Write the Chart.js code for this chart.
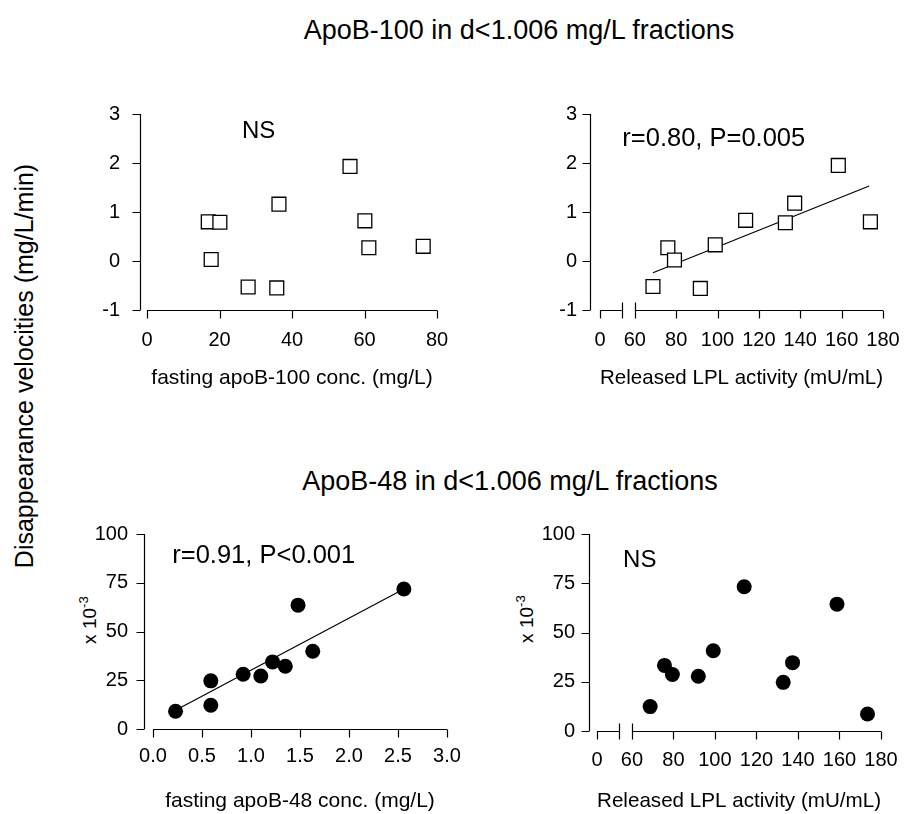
<!DOCTYPE html>
<html><head><meta charset="utf-8">
<script src="https://cdn.jsdelivr.net/npm/chart.js@4.4.0/dist/chart.umd.min.js"></script>
<style>
html,body{margin:0;padding:0;background:#fff;}
#wrap{position:relative;width:904px;height:814px;overflow:hidden;font-family:"Liberation Sans",Arial,sans-serif;color:#000;background:#fff;}
.t{position:absolute;white-space:nowrap;transform:translate(-50%,-50%);line-height:1;}
.r{transform:translate(-50%,-50%) rotate(-90deg);}
canvas{position:absolute;}
sup{font-size:70%;}
</style></head><body>
<div id="wrap">
  <div class="t" style="left:519px;top:30px;font-size:27px">ApoB-100 in d&lt;1.006 mg/L fractions</div>
  <div class="t" style="left:510px;top:481px;font-size:27px">ApoB-48 in d&lt;1.006 mg/L fractions</div>
  <div class="t r" style="left:24px;top:366px;font-size:25px">Disappearance velocities (mg/L/min)</div>
  <div class="t r" style="left:88px;top:620px;font-size:19px">x 10<sup>-3</sup></div>
  <div class="t r" style="left:525px;top:619px;font-size:19px">x 10<sup>-3</sup></div>
  <canvas id="c1" width="416" height="335" style="left:60px;top:60px"></canvas>
  <canvas id="c2" width="424" height="335" style="left:500px;top:60px"></canvas>
  <canvas id="c3" width="428" height="324" style="left:60px;top:490px"></canvas>
  <canvas id="c4" width="424" height="324" style="left:500px;top:490px"></canvas>
</div>
<script>
// ---- data ----
const apoB100Fasting   = [16.9, 20.1, 17.7, 27.9, 35.8, 36.4, 56.0, 60.1, 61.2, 76.2];
const apoB100VelFast   = [0.80, 0.79, 0.03, -0.53, -0.55, 1.16, 1.93, 0.82, 0.27, 0.30];
const lplActB100       = [68.8, 76.0, 79.2, 91.7, 98.9, 113.6, 132.8, 137.3, 158.4, 173.9];
const apoB100VelLPL    = [-0.52, 0.27, 0.02, -0.56, 0.33, 0.83, 0.78, 1.18, 1.95, 0.80];
const apoB100FitX      = [68.8, 173.3];
const apoB100FitY      = [-0.24, 1.53];
const apoB48Fasting    = [0.23, 0.59, 0.59, 0.92, 1.10, 1.22, 1.35, 1.48, 1.63, 2.56];
const apoB48VelFast    = [9.1, 24.7, 12.2, 28.1, 27.2, 34.4, 32.2, 63.5, 39.9, 71.8];
const apoB48FitX       = [0.23, 2.56];
const apoB48FitY       = [9.6, 71.8];
const lplActB48        = [68.8, 75.7, 79.5, 92.0, 99.2, 114.1, 132.9, 137.4, 158.8, 173.5];
const apoB48VelLPL     = [12.4, 33.3, 28.7, 27.8, 40.7, 73.2, 24.7, 34.7, 64.4, 8.6];
// ---- ticks ----
const yTicksB100   = [-1, 0, 1, 2, 3];
const yTicksB48    = [0, 25, 50, 75, 100];
const xTicksB100F  = [0, 20, 40, 60, 80];
const xTicksB48F   = [0, 0.5, 1.0, 1.5, 2.0, 2.5, 3.0];
const xTicksLPL    = [60, 80, 100, 120, 140, 160, 180];
const lplBreakLabel = '0';
const lplBreakValue = 43.2;   // axis value where the broken-axis "0" sits

const FONT = '"Liberation Sans", Arial, sans-serif';
const pts = (xs, ys) => xs.map((x, i) => ({x, y: ys[i]}));

const sigmaAxes = {
  id: 'sigmaAxes',
  afterDatasetsDraw(chart, args, o) {
    const ctx = chart.ctx, xs = chart.scales.x, ys = chart.scales.y, ca = chart.chartArea;
    const ax = Math.round(ca.left - o.yOffset) + 0.5;
    const yb = Math.round(ca.bottom) + 0.5;
    ctx.save();
    ctx.strokeStyle = '#000'; ctx.lineWidth = 1.2;
    ctx.beginPath();
    ctx.moveTo(ax, ys.getPixelForValue(ys.max)); ctx.lineTo(ax, ys.getPixelForValue(ys.min));
    ys.ticks.forEach(t => { const p = Math.round(ys.getPixelForValue(t.value)) + 0.5; ctx.moveTo(ax, p); ctx.lineTo(ax - o.tick, p); });
    const xl = xs.getPixelForValue(xs.min), xr = xs.getPixelForValue(xs.max);
    if (o.breakAt != null) {
      const bp = xs.getPixelForValue(o.breakAt);
      const g0 = bp - o.breakGap;
      ctx.moveTo(xl, yb); ctx.lineTo(g0, yb);
      ctx.moveTo(bp, yb); ctx.lineTo(xr, yb);
      [g0, bp].forEach(p => { ctx.moveTo(Math.round(p) + 0.5, yb - o.tick); ctx.lineTo(Math.round(p) + 0.5, yb + o.tick); });
    } else {
      ctx.moveTo(xl, yb); ctx.lineTo(xr, yb);
    }
    xs.ticks.forEach(t => { const p = Math.round(xs.getPixelForValue(t.value)) + 0.5; ctx.moveTo(p, yb); ctx.lineTo(p, yb + o.tick); });
    ctx.stroke();
    if (o.note) {
      ctx.fillStyle = '#000';
      ctx.font = o.note.size + 'px ' + FONT;
      ctx.textAlign = 'center'; ctx.textBaseline = 'middle';
      ctx.fillText(o.note.text, xs.getPixelForValue(o.note.x), ys.getPixelForValue(o.note.y));
    }
    ctx.restore();
  }
};

function makeChart(id, p) {
  const datasets = [{
    type: 'scatter', data: pts(p.xs, p.ys), order: 1,
    pointStyle: p.style, pointRadius: p.radius, pointHoverRadius: p.radius,
    backgroundColor: p.fill, borderColor: '#000', borderWidth: p.style === 'rect' ? 1.3 : 0
  }];
  if (p.fitX) datasets.push({
    type: 'line', data: pts(p.fitX, p.fitY), order: 2, showLine: true,
    borderColor: '#000', borderWidth: 1.2, pointRadius: 0, fill: false
  });
  const tickFont = {family: FONT, size: 20};
  return new Chart(document.getElementById(id), {
    type: 'scatter',
    data: {datasets},
    options: {
      responsive: false, animation: false, devicePixelRatio: 1,
      layout: {padding: {left: 0, top: p.padTop, right: p.padRight, bottom: 0}},
      plugins: {legend: {display: false}, tooltip: {enabled: false}, sigmaAxes: p.axes},
      scales: {
        x: {
          type: 'linear', min: p.xMin, max: p.xMax,
          afterBuildTicks: s => { s.ticks = p.xTicks.map(v => ({value: v})); },
          afterFit: s => { s.height = p.xHeight; },
          grid: {display: false, drawTicks: false}, border: {display: false},
          ticks: {padding: p.xPad, font: tickFont, color: '#000', maxRotation: 0, autoSkip: false, callback: p.xLabel},
          title: {display: true, text: p.xTitle, color: '#000', font: {family: FONT, size: 21}, padding: {top: 0, bottom: p.titlePad}}
        },
        y: {
          type: 'linear', min: p.yMin, max: p.yMax,
          afterBuildTicks: s => { s.ticks = p.yTicks.map(v => ({value: v})); },
          afterFit: s => { s.width = p.yWidth; },
          grid: {display: false, drawTicks: false}, border: {display: false},
          ticks: {padding: p.yPad, font: tickFont, color: '#000', autoSkip: false}
        }
      }
    },
    plugins: [sigmaAxes]
  });
}

const lplTickValues = [lplBreakValue].concat(xTicksLPL);
const lplLabel = (v, i) => i === 0 ? lplBreakLabel : String(v);

makeChart('c1', {
  xs: apoB100Fasting, ys: apoB100VelFast, style: 'rect', radius: 9.8, fill: '#fff',
  xMin: 0, xMax: 80, xTicks: xTicksB100F, xLabel: v => String(v),
  yMin: -1, yMax: 3, yTicks: yTicksB100,
  padTop: 54, padRight: 39, yWidth: 87, xHeight: 85, xPad: 18, yPad: 27, titlePad: 4,
  xTitle: 'fasting apoB-100 conc. (mg/L)',
  axes: {yOffset: 7, tick: 8, note: {text: 'NS', x: 30.8, y: 2.64, size: 24}}
});
makeChart('c2', {
  xs: lplActB100, ys: apoB100VelLPL, style: 'rect', radius: 9.8, fill: '#fff',
  fitX: apoB100FitX, fitY: apoB100FitY,
  xMin: lplBreakValue, xMax: 180, xTicks: lplTickValues, xLabel: lplLabel,
  yMin: -1, yMax: 3, yTicks: yTicksB100,
  padTop: 54, padRight: 41, yWidth: 100, xHeight: 85, xPad: 18, yPad: 23, titlePad: 4,
  xTitle: 'Released LPL activity (mU/mL)',
  axes: {yOffset: 10, tick: 8, breakAt: 60, breakGap: 13, note: {text: 'r=0.80, P=0.005', x: 98.2, y: 2.49, size: 25.5}}
});
makeChart('c3', {
  xs: apoB48Fasting, ys: apoB48VelFast, style: 'circle', radius: 7.5, fill: '#000',
  fitX: apoB48FitX, fitY: apoB48FitY,
  xMin: 0, xMax: 3, xTicks: xTicksB48F, xLabel: v => v.toFixed(1),
  yMin: 0, yMax: 100, yTicks: yTicksB48,
  padTop: 44, padRight: 41, yWidth: 93, xHeight: 85, xPad: 15, yPad: 25, titlePad: 0,
  xTitle: 'fasting apoB-48 conc. (mg/L)',
  axes: {yOffset: 9, tick: 8, note: {text: 'r=0.91, P<0.001', x: 1.13, y: 88.7, size: 25.5}}
});
makeChart('c4', {
  xs: lplActB48, ys: apoB48VelLPL, style: 'circle', radius: 7.5, fill: '#000',
  xMin: lplBreakValue, xMax: 180, xTicks: lplTickValues, xLabel: lplLabel,
  yMin: 0, yMax: 100, yTicks: yTicksB48,
  padTop: 44, padRight: 43, yWidth: 97, xHeight: 83, xPad: 17, yPad: 22, titlePad: 0,
  xTitle: 'Released LPL activity (mU/mL)',
  axes: {yOffset: 8, tick: 8, breakAt: 60, breakGap: 13, note: {text: 'NS', x: 63.8, y: 86.8, size: 24}}
});
</script>
</body></html>
